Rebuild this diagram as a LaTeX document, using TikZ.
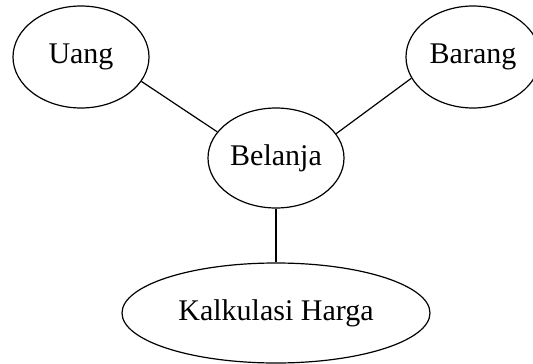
\documentclass[tikz,border=0pt]{standalone}
\usepackage{fontspec}
\setmainfont{Liberation Serif}
\usetikzlibrary{shapes.geometric}
\begin{document}
\begin{tikzpicture}[x=1pt,y=-1pt,
  bubble/.style={draw=black, line width=1.2pt, ellipse, inner sep=0pt,
    font=\fontsize{30pt}{35pt}\selectfont},
  link/.style={draw=black, line width=1.2pt}]
  \useasboundingbox (0,0) rectangle (533,364);
  % concept bubbles
  \node[bubble, minimum width=136pt, minimum height=102pt] (uang)   at (81,57)   {Uang};
  \node[bubble, minimum width=134pt, minimum height=102pt] (barang) at (473,57)  {Barang};
  \node[bubble, minimum width=136pt, minimum height=100pt] (belanja) at (276,158) {Belanja};
  \node[bubble, minimum width=308pt, minimum height=100pt] (kalk)   at (276,313) {Kalkulasi Harga};
  % connections to the central bubble
  \draw[link] (uang.-22) -- (belanja.156);
  \draw[link] (barang.199) -- (belanja.22);
  \draw[link] (belanja.south) -- (kalk.north);
\end{tikzpicture}
\end{document}
